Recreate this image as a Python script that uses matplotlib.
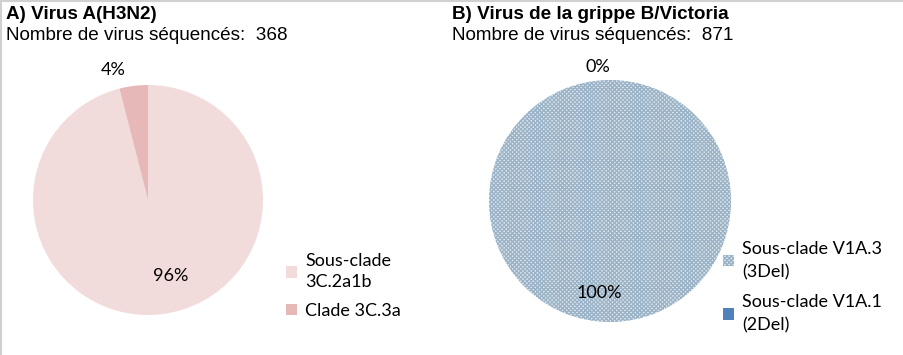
import matplotlib
matplotlib.use('Agg')
import matplotlib.pyplot as plt
from matplotlib.lines import Line2D
from matplotlib.patches import Patch

# Données
titre_a = "A) Virus A(H3N2)"
sous_titre_a = "Nombre de virus séquencés:  368"
labels_a = ["Sous-clade\n3C.2a1b", "Clade 3C.3a"]
valeurs_a = [96, 4]
couleurs_a = ['#f2dcdb', '#e6b9b8']

titre_b = "B) Virus de la grippe B/Victoria"
sous_titre_b = "Nombre de virus séquencés:  871"
labels_b = ["Sous-clade V1A.3\n(3Del)", "Sous-clade V1A.1\n(2Del)"]
valeurs_b = [100, 0]
couleurs_b = ['#e2e9ef', '#4f81bd']

W, H = 904, 355
fig = plt.figure(figsize=(W / 100, H / 100), dpi=100)
fig.patch.set_facecolor('white')

police_titre = 'Liberation Sans'
police_leg = 'Lato'
plt.rcParams['hatch.linewidth'] = 1.0


def px_axes(cx, cy, r):
    # cx, cy en pixels depuis le coin haut-gauche
    return fig.add_axes([(cx - r) / W, (H - cy - r) / H, 2 * r / W, 2 * r / H])


# Bordure grise (cadre Excel)
fig.add_artist(Line2D([0, 1], [1 - 1 / H, 1 - 1 / H], color='#d0d0d0', lw=1.5,
                      transform=fig.transFigure))
fig.add_artist(Line2D([1 / W, 1 / W], [0, 1], color='#d0d0d0', lw=1.5,
                      transform=fig.transFigure))

# Titres
for x0, titre, sous_titre in [(6, titre_a, sous_titre_a), (452, titre_b, sous_titre_b)]:
    fig.text(x0 / W, 1 - 19 / H, titre, fontsize=13.6, fontweight='bold',
             family=police_titre, va='baseline')
    fig.text(x0 / W, 1 - 39.5 / H, sous_titre, fontsize=13.6,
             family=police_titre, va='baseline')

# --- Camembert A ---
ax_a = px_axes(148, 200, 115)
wedges_a, _, pcts_a = ax_a.pie(valeurs_a, colors=couleurs_a, startangle=90,
                               counterclock=False, autopct='%1.0f%%',
                               pctdistance=0.7, radius=1,
                               wedgeprops=dict(linewidth=0),
                               textprops=dict(fontsize=13, family=police_leg))
ax_a.set_xlim(-1, 1)
ax_a.set_ylim(-1, 1)
pcts_a[0].set_position((0.2, -0.66))
pcts_a[1].set_position((-0.3, 1.13))

leg_a = fig.legend(handles=[Patch(facecolor=c, edgecolor='none') for c in couleurs_a],
                   labels=labels_a, loc='upper left',
                   bbox_to_anchor=(270 / W, 1 - 237 / H), frameon=False,
                   handlelength=0.6, handleheight=0.6, handletextpad=0.45,
                   labelspacing=0.7, prop=dict(family=police_leg, size=13))
for t in leg_a.get_texts():
    t.set_linespacing(1.4)

# --- Camembert B ---
ax_b = px_axes(610, 201, 121)
wedges_b, _, pcts_b = ax_b.pie(valeurs_b, colors=couleurs_b, startangle=90,
                               counterclock=False, autopct='%1.0f%%',
                               pctdistance=0.75, radius=1,
                               wedgeprops=dict(linewidth=0),
                               textprops=dict(fontsize=13, family=police_leg))
ax_b.set_xlim(-1, 1)
ax_b.set_ylim(-1, 1)
for w in wedges_b:
    w.set_hatch('xxxxxxxx')
    w.set_edgecolor('#9ab3c7')
    w.set_linewidth(0)
wedges_b[1].set_edgecolor('#ffffff')
pcts_b[0].set_position((-0.09, -0.76))
pcts_b[1].set_position((-0.1, 1.11))

leg_b = fig.legend(handles=[Patch(facecolor=couleurs_b[0], edgecolor='#9ab3c7',
                                  hatch='xxxxxxxx', lw=0),
                            Patch(facecolor=couleurs_b[1], edgecolor='none')],
                   labels=labels_b, loc='upper left',
                   bbox_to_anchor=(707 / W, 1 - 225 / H), frameon=False,
                   handlelength=0.6, handleheight=0.6, handletextpad=0.45,
                   labelspacing=0.8, prop=dict(family=police_leg, size=13))
for t in leg_b.get_texts():
    t.set_linespacing(1.5)

fig.savefig('out.png', dpi=100)
